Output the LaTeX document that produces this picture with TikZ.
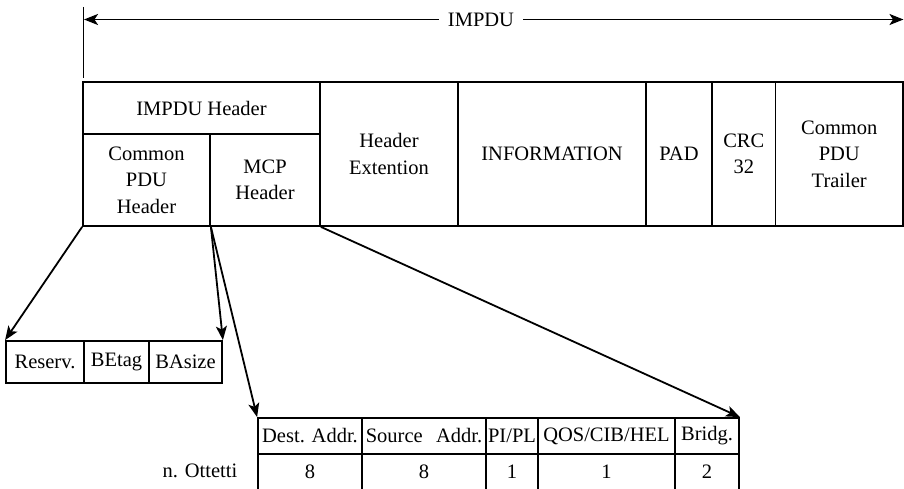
\documentclass[tikz,border=0pt]{standalone}
\usepackage{fontspec}
\setmainfont{Liberation Serif}
\usetikzlibrary{arrows.meta}
\begin{document}
\begin{tikzpicture}[x=1pt,y=-1pt,
  every node/.style={font=\fontsize{20.5}{26.5}\selectfont},
  cell/.style={draw,line width=1.8pt,rectangle,inner sep=0pt,align=center,anchor=center},
  conn/.style={line width=1.8pt,-{Stealth[length=14pt,width=11pt,inset=3.5pt]}}]
\useasboundingbox (0,0) rectangle (904,489);
% top dimension arrow
\draw[line width=1.8pt] (83.5,7) -- (83.5,78);
\coordinate (lend) at (84,19.5);
\coordinate (rend) at (903.5,19.5);
\node[inner sep=0pt,minimum width=84pt] (impdu) at (481,19.5) {IMPDU};
\draw[conn] (impdu.west) -- (lend);
\draw[conn] (impdu.east) -- (rend);
% main row
\node[cell,minimum width=237pt,minimum height=52pt] (hdr) at (201.5,108) {IMPDU Header};
\node[cell,minimum width=127pt,minimum height=92pt] (cpdu) at (146.5,180) {Common\\PDU\\Header};
\node[cell,minimum width=110pt,minimum height=92pt] (mcp) at (265,180) {MCP\\Header};
\node[cell,minimum width=138pt,minimum height=144pt] (hext) at (389,154) {Header\\Extention};
\node[cell,minimum width=188pt,minimum height=144pt] (info) at (552,154) {INFORMATION};
\node[cell,minimum width=66pt,minimum height=144pt] (pad) at (679,154) {PAD};
\node[cell,minimum width=63.5pt,minimum height=144pt] (crc) at (743.75,154) {CRC\\32};
\node[cell,minimum width=127.5pt,minimum height=144pt] (trail) at (839.25,154) {Common\\PDU\\Trailer};
% small box
\node[cell,minimum width=78pt,minimum height=42pt] (reserv) at (45,362) {Reserv.};
\node[cell,minimum width=65pt,minimum height=42pt] (betag) at (116.5,362) {BEtag};
\node[cell,minimum width=73pt,minimum height=42pt] (basize) at (185.5,362) {BAsize};
% table
\node[cell,minimum width=104pt,minimum height=36pt] (dest) at (310,436) {Dest. Addr.};
\node[cell,minimum width=124pt,minimum height=36pt] (src) at (424,436) {Source\hspace{0.4em} Addr.};
\node[cell,minimum width=52pt,minimum height=36pt] (pipl) at (512,436) {PI/PL};
\node[cell,minimum width=137pt,minimum height=36pt] (qos) at (606.5,436) {QOS/CIB/HEL};
\node[cell,minimum width=64pt,minimum height=36pt] (bridg) at (707,436) {Bridg.};
\node[cell,minimum width=104pt,minimum height=36pt] (v1) at (310,472) {8};
\node[cell,minimum width=124pt,minimum height=36pt] (v2) at (424,472) {8};
\node[cell,minimum width=52pt,minimum height=36pt] (v3) at (512,472) {1};
\node[cell,minimum width=137pt,minimum height=36pt] (v4) at (606.5,472) {1};
\node[cell,minimum width=64pt,minimum height=36pt] (v5) at (707,472) {2};
\node[anchor=east,inner sep=0pt] (nott) at (237.5,471) {n. Ottetti};
% connectors
\draw[conn] (cpdu.south west) -- (reserv.north west);
\draw[conn] (cpdu.south east) -- (basize.north east);
\draw[conn] (cpdu.south east) -- (dest.north west);
\draw[conn] (mcp.south east) -- (bridg.north east);
\end{tikzpicture}
\end{document}
